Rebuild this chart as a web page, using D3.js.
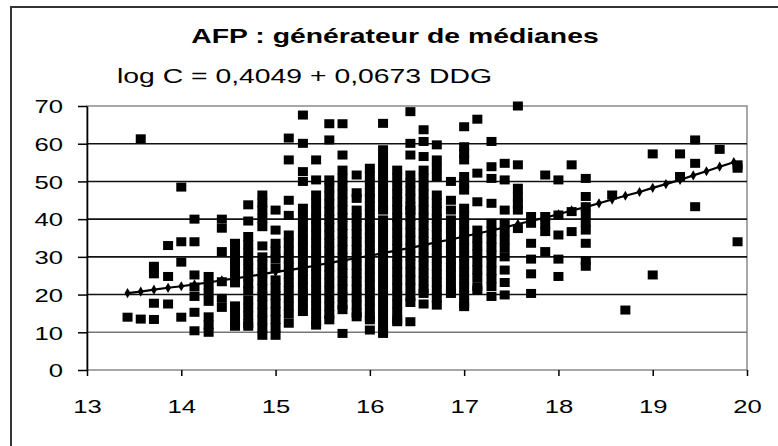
<!DOCTYPE html>
<html>
  <head>
    <meta charset="utf-8">
    <style>
    body { margin: 0; background: #fff; }
    svg text { font-family: "Liberation Sans", Arial, sans-serif; fill: #000; }
    </style>
  </head>
  <body>
    <div id="chart-area"></div>

    <script src="https://d3js.org/d3.v7.min.js"></script>
    <script>
      // DDG (weeks) of each column of measurements
      const ddg = [13.43, 13.57, 13.71, 13.86, 14.00, 14.14, 14.29, 14.43, 14.57, 14.71,
        14.86, 15.00, 15.14, 15.29, 15.43, 15.57, 15.71, 15.86, 16.00, 16.14,
        16.29, 16.43, 16.57, 16.71, 16.86, 17.00, 17.14, 17.29, 17.43, 17.57,
        17.71, 17.86, 18.00, 18.14, 18.29, 18.57, 18.71, 19.00, 19.29, 19.45,
        19.71, 19.90];

      // AFP values read for each DDG column
      const afp = [
        [14.0],
        [61.3, 13.5],
        [27.5, 25.5, 17.7, 13.4],
        [33.0, 24.8, 17.5],
        [48.5, 34.0, 28.6, 14.0],
        [40.0, 34.0, 25.2, 22.0, 19.5, 15.3, 10.4],
        [24.8, 22.6, 20.4, 18.2, 14.1, 12.0, 10.0],
        [40.0, 37.6, 31.4, 23.4, 19.0, 16.6],
        [33.6, 31.5, 29.4, 27.3, 25.2, 23.1, 17.0, 14.9, 12.8, 11.6],
        [43.8, 39.5, 35.4, 33.3, 31.2, 29.1, 27.0, 24.9, 22.8, 21.0, 18.6, 16.5, 14.4, 12.3, 11.6],
        [46.4, 44.3, 42.4, 40.2, 38.0, 32.9, 30.0, 27.9, 25.8, 23.7, 21.6, 19.5, 17.4, 15.3, 13.2, 11.1, 9.2],
        [42.4, 37.1, 33.6, 31.5, 29.4, 27.0, 23.9, 21.8, 19.7, 17.6, 15.5, 13.4, 11.3, 9.2],
        [61.5, 55.7, 45.0, 41.0, 35.8, 33.7, 31.6, 29.5, 27.4, 25.3, 23.2, 21.1, 19.0, 16.9, 14.8, 12.4],
        [67.6, 60.1, 52.6, 50.0, 42.9, 40.8, 38.7, 36.6, 34.5, 32.4, 30.3, 28.2, 26.1, 24.0, 21.9, 19.8, 17.7, 15.5],
        [55.7, 50.4, 46.4, 44.3, 42.2, 40.1, 38.0, 35.9, 33.8, 31.7, 29.6, 27.5, 25.4, 23.3, 21.2, 19.1, 17.0, 14.9, 12.8, 11.9],
        [65.3, 61.0, 50.4, 48.3, 46.2, 44.1, 42.0, 39.9, 37.8, 35.7, 33.6, 31.5, 29.4, 27.3, 25.2, 23.1, 21.0, 18.9, 16.8, 14.7, 13.3],
        [65.3, 57.0, 53.0, 50.9, 48.8, 46.7, 44.6, 42.5, 40.4, 38.3, 36.2, 34.1, 32.0, 29.9, 27.8, 25.7, 23.6, 21.5, 19.4, 17.3, 16.0, 9.7],
        [51.7, 47.0, 45.5, 42.4, 40.3, 38.2, 36.1, 34.0, 31.9, 29.8, 27.7, 25.6, 23.5, 21.4, 19.3, 17.2, 15.1, 14.1],
        [53.5, 51.4, 49.3, 47.2, 45.5, 43.5, 41.4, 39.3, 37.2, 35.1, 33.0, 30.9, 28.8, 26.7, 24.6, 22.5, 20.4, 18.3, 16.2, 14.1, 13.3, 10.6],
        [65.4, 58.4, 56.3, 54.2, 52.1, 50.0, 47.9, 45.8, 43.7, 42.4, 39.8, 37.7, 35.6, 33.5, 31.4, 29.3, 27.2, 25.1, 23.0, 20.9, 18.8, 16.7, 14.6, 12.5, 10.4, 9.7],
        [53.0, 50.9, 48.8, 46.7, 44.6, 42.5, 40.4, 38.5, 36.4, 34.3, 32.2, 30.1, 28.0, 25.9, 23.8, 21.7, 19.6, 17.5, 15.4, 13.3, 12.8],
        [68.5, 60.1, 57.0, 51.7, 49.6, 47.5, 45.4, 43.3, 42.4, 40.7, 38.6, 36.5, 34.4, 32.3, 30.2, 28.1, 26.0, 23.9, 21.8, 19.5, 17.9, 12.8],
        [63.7, 60.6, 56.6, 53.0, 50.9, 48.8, 46.7, 44.6, 42.5, 40.4, 38.3, 36.2, 34.1, 32.0, 29.9, 27.8, 25.7, 23.6, 21.5, 20.3, 17.5],
        [59.7, 55.7, 53.5, 51.3, 46.4, 44.3, 42.2, 40.1, 38.0, 35.9, 33.8, 31.7, 29.6, 27.5, 25.4, 23.3, 21.2, 19.1, 17.2],
        [50.0, 45.0, 42.4, 39.8, 37.7, 35.6, 33.5, 31.4, 29.3, 27.2, 25.1, 23.0, 20.9, 20.3],
        [64.5, 59.2, 57.5, 55.7, 51.3, 49.5, 47.7, 42.9, 40.8, 38.7, 36.6, 34.5, 32.4, 30.3, 28.2, 26.1, 24.0, 21.9, 19.8, 17.7, 16.8],
        [66.5, 52.2, 44.6, 37.1, 35.0, 32.9, 30.8, 28.7, 26.6, 24.5, 22.1, 21.2],
        [60.6, 53.9, 50.8, 44.2, 38.9, 36.8, 34.7, 32.6, 30.5, 28.4, 26.3, 24.2, 22.1, 19.5],
        [54.8, 50.4, 42.4, 38.9, 36.7, 34.5, 32.3, 30.0, 26.5, 23.2, 19.9],
        [70.0, 54.4, 48.2, 46.0, 44.0, 42.4, 37.5],
        [40.7, 38.9, 33.6, 29.4, 25.5, 20.3],
        [51.7, 40.7, 38.7, 36.7, 31.4],
        [50.4, 41.1, 35.8, 29.4, 24.8],
        [54.4, 42.0, 36.7],
        [50.8, 46.0, 43.3, 41.2, 39.1, 37.1, 33.6, 29.0, 27.5],
        [46.4],
        [15.9],
        [57.3, 25.2],
        [57.3, 51.3],
        [61.0, 54.8, 43.3],
        [58.5],
        [54.4, 53.5, 34.0]
      ];

      // generated medians (fitted curve)
      const curveDdg = [13.43, 13.57, 13.71, 13.86, 14.00, 14.14, 14.29, 14.43, 14.57, 14.71,
        14.86, 15.00, 15.14, 15.29, 15.43, 15.57, 15.71, 15.86, 16.00, 16.14,
        16.29, 16.43, 16.57, 16.71, 16.86, 17.00, 17.14, 17.29, 17.43, 17.57,
        17.71, 17.86, 18.00, 18.14, 18.29, 18.43, 18.57, 18.71, 18.86, 19.00,
        19.14, 19.29, 19.43, 19.57, 19.71, 19.86];
      const curveMedian = [20.4, 20.8, 21.3, 21.8, 22.2, 22.7, 23.2, 23.8, 24.3, 24.8,
        25.4, 26.0, 26.5, 27.1, 27.7, 28.4, 29.0, 29.7, 30.3, 31.0,
        31.7, 32.4, 33.1, 33.9, 34.6, 35.4, 36.2, 37.0, 37.8, 38.7,
        39.5, 40.4, 41.3, 42.3, 43.2, 44.2, 45.2, 46.2, 47.2, 48.3,
        49.3, 50.4, 51.6, 52.7, 53.9, 55.1];

      const xTicks = [13, 14, 15, 16, 17, 18, 19, 20];
      const yTicks = [0, 10, 20, 30, 40, 50, 60, 70];

      const width = 778;
      const height = 446;
      const stretch = 1.35; // the scan is widened horizontally

      const svg = d3.select("#chart-area")
        .append("svg")
          .attr("width", width)
          .attr("height", height);

      // outer frame
      svg.append("rect")
        .attr("x", 11)
        .attr("y", 7)
        .attr("width", 800)
        .attr("height", 500)
        .attr("fill", "none")
        .attr("stroke", "#333")
        .attr("stroke-width", 2);

      svg.append("text")
        .attr("transform", "translate(395,43) scale(" + stretch + ",1)")
        .attr("text-anchor", "middle")
        .attr("font-size", 21)
        .attr("font-weight", "bold")
        .text("AFP : générateur de médianes");

      svg.append("text")
        .attr("transform", "translate(117,83) scale(" + stretch + ",1)")
        .attr("font-size", 21)
        .text("log C = 0,4049 + 0,0673 DDG");

      const x = d3.scaleLinear().domain([13, 20]).range([87, 747]);
      const y = d3.scaleLinear().domain([0, 70]).range([370, 106]);

      // plot border
      svg.append("rect")
        .attr("x", x(13))
        .attr("y", y(70))
        .attr("width", x(20) - x(13))
        .attr("height", y(0) - y(70))
        .attr("fill", "none")
        .attr("stroke", "#8a8a8a")
        .attr("stroke-width", 1.5);

      // horizontal gridlines
      svg.selectAll(".grid")
        .data(yTicks.filter(d => d > 0 && d < 70))
        .enter().append("line")
          .attr("x1", x(13))
          .attr("x2", x(20))
          .attr("y1", d => y(d))
          .attr("y2", d => y(d))
          .attr("stroke", d => d === 10 ? "#777" : "#111")
          .attr("stroke-width", 1.6);

      // y axis
      const yAxis = svg.append("g")
        .attr("transform", `translate(${x(13)},0)`)
        .call(d3.axisLeft(y).tickValues(yTicks).tickSize(9).tickSizeOuter(0));
      yAxis.select(".domain").attr("stroke", "#000").attr("stroke-width", 1.6);
      yAxis.selectAll(".tick line").attr("stroke-width", 1.5);
      yAxis.selectAll("text")
        .attr("font-size", 19)
        .attr("x", -24 / stretch)
        .attr("dy", "0.36em")
        .attr("transform", `scale(${stretch},1)`);
      yAxis.attr("font-family", null).attr("font-size", null);

      // x axis
      const xAxis = svg.append("g")
        .attr("transform", `translate(0,${y(0)})`)
        .call(d3.axisBottom(x).tickValues(xTicks).tickSize(6).tickSizeOuter(0).tickFormat(d3.format("d")));
      xAxis.select(".domain").remove();
      xAxis.selectAll(".tick line").attr("stroke-width", 1.5);
      xAxis.selectAll("text")
        .attr("font-size", 19)
        .attr("y", 43)
        .attr("dy", 0)
        .attr("transform", `scale(${stretch},1)`);
      xAxis.attr("font-family", null).attr("font-size", null);

      // scatter squares
      const points = [];
      ddg.forEach((d, i) => afp[i].forEach(v => points.push([d, v])));

      svg.append("g")
        .selectAll("rect")
        .data(points)
        .enter().append("rect")
          .attr("x", d => x(d[0]) - 5)
          .attr("y", d => y(d[1]) - 4.5)
          .attr("width", 10)
          .attr("height", 9)
          .attr("fill", "#000");

      // generated medians line
      const curve = curveDdg.map((d, i) => [d, curveMedian[i]]);

      svg.append("path")
        .datum(curve)
        .attr("fill", "none")
        .attr("stroke", "#000")
        .attr("stroke-width", 2.2)
        .attr("d", d3.line().x(d => x(d[0])).y(d => y(d[1])));

      svg.append("g")
        .selectAll("path")
        .data(curve)
        .enter().append("path")
          .attr("transform", d => `translate(${x(d[0])},${y(d[1])})`)
          .attr("d", d3.symbol(d3.symbolDiamond).size(30))
          .attr("fill", "#000");
    </script>
  </body>
</html>
